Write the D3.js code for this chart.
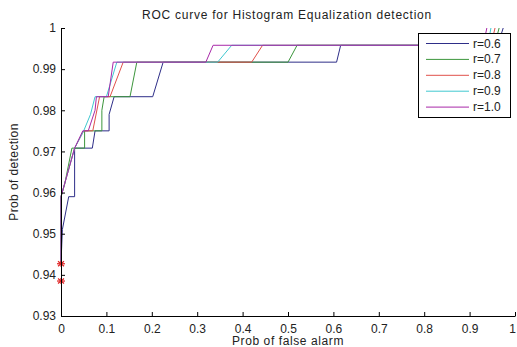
<!DOCTYPE html>
<html><head><meta charset="utf-8">
<script src="https://cdn.jsdelivr.net/npm/d3@7"></script>
<style>body{margin:0;background:#fff;} svg{display:block;font-family:"Liberation Sans",Arial,sans-serif;}</style>
</head><body>
<svg id="c" width="517" height="347"></svg>
<script>
const seriesNames = ["r=0.6","r=0.7","r=0.8","r=0.9","r=1.0"];
const seriesColors = ["#2e2e88","#3c963c","#e0504a","#40c8d0","#a828a8"];
const xTicks = [0,0.1,0.2,0.3,0.4,0.5,0.6,0.7,0.8,0.9,1];
const yTicks = [0.93,0.94,0.95,0.96,0.97,0.98,0.99,1];
const r06 = [[0,0.9427],[0.003,0.951],[0.017,0.959],[0.03,0.959],[0.03,0.9708],[0.069,0.9708],[0.075,0.975],[0.106,0.975],[0.106,0.979],[0.117,0.9833],[0.202,0.9833],[0.225,0.9917],[0.607,0.9917],[0.616,0.9958],[0.962,0.9958],[0.974,1]];
const r07 = [[0,0.9427],[0,0.959],[0.008,0.962],[0.024,0.9708],[0.052,0.9708],[0.052,0.975],[0.09,0.975],[0.09,0.98],[0.095,0.9833],[0.152,0.9833],[0.167,0.9917],[0.50,0.9917],[0.52,0.9958],[0.955,0.9958],[0.965,1]];
const r08 = [[0,0.9427],[0,0.959],[0.03,0.9708],[0.05,0.975],[0.07,0.975],[0.085,0.9833],[0.108,0.9833],[0.137,0.9917],[0.42,0.9917],[0.444,0.9958],[0.947,0.9958],[0.956,1]];
const r09 = [[0,0.9427],[0,0.959],[0.03,0.9708],[0.05,0.975],[0.065,0.979],[0.075,0.9833],[0.1,0.9833],[0.123,0.9917],[0.345,0.9917],[0.376,0.9958],[0.94,0.9958],[0.947,1]];
const r10 = [[0,0.9427],[0,0.959],[0.03,0.9708],[0.048,0.975],[0.06,0.975],[0.075,0.98],[0.078,0.9833],[0.104,0.9833],[0.115,0.9917],[0.319,0.9917],[0.335,0.9958],[0.93,0.9958],[0.938,1]];
const starPoints = [[0,0.9427],[0,0.9385]];
const allSeries = [r06,r07,r08,r09,r10];

const svg = d3.select("#c");
const L=61,R=515,T=28,B=316;
const x = d3.scaleLinear().domain([0,1]).range([L,R]);
const y = d3.scaleLinear().domain([0.93,1]).range([B,T]);

svg.append("rect").attr("width",517).attr("height",347).attr("fill","#fff");

const line = d3.line().x(d=>x(d[0])).y(d=>y(d[1]));
allSeries.forEach((s,i)=>{
  svg.append("path").datum(s).attr("d",line).attr("fill","none")
    .attr("stroke",seriesColors[i]).attr("stroke-width",1);
});

starPoints.forEach(p=>{
  const g = svg.append("g").attr("transform",`translate(${x(p[0])},${y(p[1])})`)
    .attr("stroke","#e02020").attr("stroke-width",1.2);
  g.append("line").attr("x1",-4).attr("x2",4).attr("y1",0).attr("y2",0);
  g.append("line").attr("x1",0).attr("x2",0).attr("y1",-3).attr("y2",3);
  g.append("line").attr("x1",-3).attr("x2",3).attr("y1",-2.5).attr("y2",2.5);
  g.append("line").attr("x1",-3).attr("x2",3).attr("y1",2.5).attr("y2",-2.5);
});

const xa = svg.append("g").attr("transform",`translate(0,${B})`)
  .call(d3.axisBottom(x).tickValues(xTicks).tickSizeInner(-4).tickSizeOuter(0).tickPadding(8).tickFormat(d3.format("~g")));
const ya = svg.append("g").attr("transform",`translate(${L},0)`)
  .call(d3.axisLeft(y).tickValues(yTicks).tickSizeInner(-4).tickSizeOuter(0).tickPadding(5).tickFormat(d3.format("~g")));
[xa,ya].forEach(a=>{
  a.select(".domain").attr("stroke","#000");
  a.selectAll(".tick line").attr("stroke","#000");
  a.selectAll(".tick text").attr("fill","#222").style("font-size","12px").style("font-family","Liberation Sans, Arial, sans-serif");
});
xa.selectAll(".tick text").filter(d=>d===1).attr("text-anchor","end").attr("dx","0.5");

svg.append("text").attr("x",287).attr("y",19).attr("text-anchor","middle")
  .style("font-size","12px").style("letter-spacing","0.75px").attr("fill","#222").text("ROC curve for Histogram Equalization detection");
svg.append("text").attr("x",288).attr("y",345).attr("text-anchor","middle")
  .style("font-size","12px").style("letter-spacing","0.6px").attr("fill","#222").text("Prob of false alarm");
svg.append("text").attr("transform","translate(18,172) rotate(-90)").attr("text-anchor","middle")
  .style("font-size","12px").style("letter-spacing","0.4px").attr("fill","#222").text("Prob of detection");

const lg = svg.append("g");
lg.append("rect").attr("x",418.5).attr("y",33.5).attr("width",92).attr("height",84)
  .attr("fill","#fff").attr("stroke","#000").attr("stroke-width",1);
seriesNames.forEach((n,i)=>{
  const yy = 43.5 + i*15.9;
  lg.append("line").attr("x1",426).attr("x2",469).attr("y1",yy).attr("y2",yy)
    .attr("stroke",seriesColors[i]).attr("stroke-width",1);
  lg.append("text").attr("x",473).attr("y",yy+4).style("font-size","12px").attr("fill","#222").text(n);
});
</script>
</body></html>
